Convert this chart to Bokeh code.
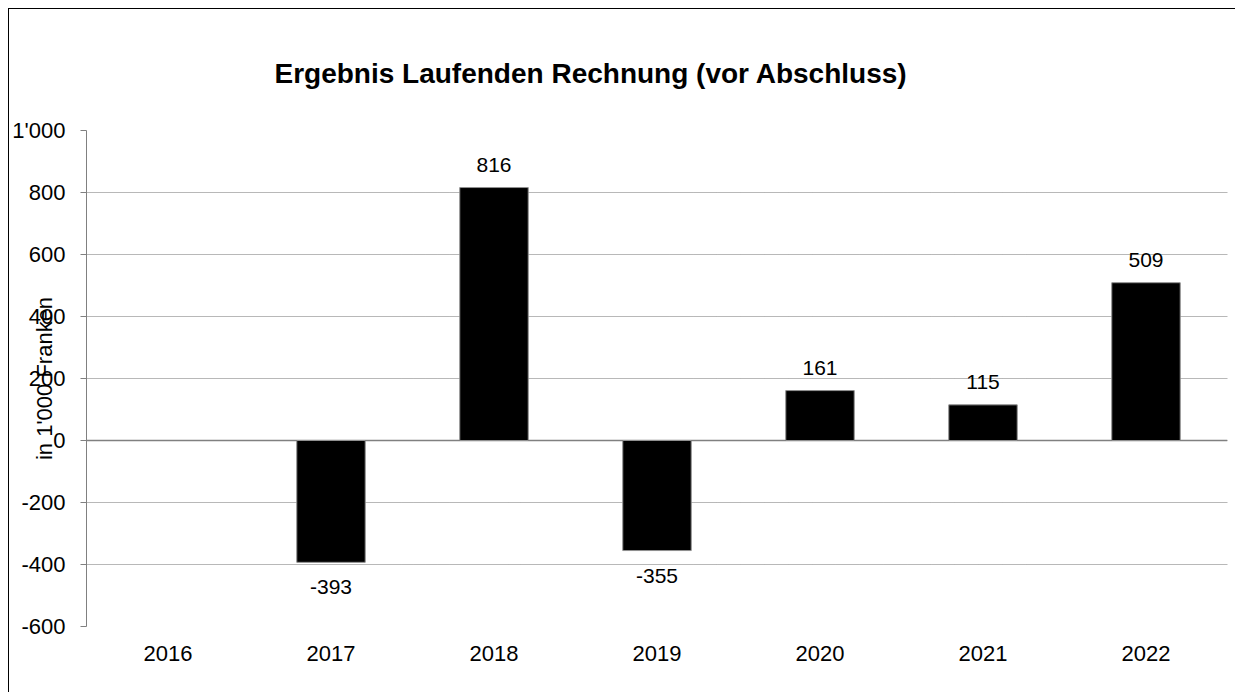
from bokeh.plotting import figure
from bokeh.models import ColumnDataSource, Range1d, FixedTicker, Span, Title
from bokeh.core.properties import value
from bokeh.embed import file_html
from bokeh.resources import INLINE

# ---- data ----
years = ["2016", "2017", "2018", "2019", "2020", "2021", "2022"]
bar_years = ["2017", "2018", "2019", "2020", "2021", "2022"]
bar_values = [-393, 816, -355, 161, 115, 509]
ytick_values = [-600, -400, -200, 0, 200, 400, 600, 800, 1000]
ytick_labels = ["-600", "-400", "-200", "0", "200", "400", "600", "800", "1'000"]
title_text = "Ergebnis Laufenden Rechnung (vor Abschluss)"
ylabel_text = "in 1'000 Franken"

FONT = "Liberation Sans"
OFF = 9                       # page offset of the canvas (margin + border)
W, H = 1236 - OFF, 693 - OFF
LEFT, RIGHT, TOP, BOTTOM = 86 - OFF, 1227 - OFF, 130 - OFF, 626 - OFF
YMIN, YMAX = -600, 1000

ncat = len(years)
p = figure(width=W, height=H, x_range=Range1d(-0.5, ncat - 0.5),
           y_range=Range1d(YMIN, YMAX), output_backend="svg",
           toolbar_location=None,
           min_border_left=LEFT, min_border_right=W - RIGHT, min_border_top=TOP,
           min_border_bottom=H - BOTTOM)
p.outline_line_color = None
p.background_fill_color = "white"
p.border_fill_color = "white"
p.styles = {"border-left": "1px solid black", "border-top": "1px solid black",
            "margin-left": "8px", "margin-top": "8px"}

# title
p.title = Title(text=title_text, align="left", offset=188, standoff=83,
                text_font=FONT, text_font_size="28px", text_font_style="bold",
                text_color="black")

src = ColumnDataSource(dict(
    x=[years.index(y) for y in bar_years], top=bar_values,
    lbl=[str(v) for v in bar_values],
    off=[-23 if v >= 0 else 25 for v in bar_values],
))

zero = Span(location=0, dimension="width", line_color="#808080", line_width=1.5,
            level="underlay")
p.add_layout(zero)

p.vbar(x="x", top="top", bottom=0, width=0.42, source=src, fill_color="black",
       line_color="#909090", line_width=1)
p.text(x="x", y="top", text="lbl", y_offset="off", source=src,
       text_align="center", text_baseline="middle", text_font=value(FONT),
       text_font_size="21px", text_color="black")

# y axis
yax = p.yaxis[0]
yax.ticker = FixedTicker(ticks=ytick_values)
yax.major_label_overrides = {v: l for v, l in zip(ytick_values, ytick_labels)}
yax.axis_line_color = "#808080"
yax.major_tick_line_color = "#808080"
yax.major_tick_out = 6
yax.major_tick_in = 0
yax.minor_tick_line_color = None
yax.major_label_text_font = FONT
yax.major_label_text_font_size = "22px"
yax.major_label_text_color = "black"
yax.major_label_standoff = 15
yax.axis_label = ylabel_text
yax.axis_label_text_font = FONT
yax.axis_label_text_font_size = "22px"
yax.axis_label_text_font_style = "normal"
yax.axis_label_text_color = "black"
yax.axis_label_standoff = -48

# x axis (category labels)
xax = p.xaxis[0]
xax.ticker = FixedTicker(ticks=list(range(ncat)))
xax.major_label_overrides = {i: y for i, y in enumerate(years)}
xax.axis_line_color = None
xax.major_tick_line_color = None
xax.minor_tick_line_color = None
xax.major_label_text_font = FONT
xax.major_label_text_font_size = "22px"
xax.major_label_text_color = "black"
xax.major_label_standoff = 13

p.xgrid.grid_line_color = None
p.ygrid.grid_line_color = "#707070"
p.ygrid.grid_line_dash = "1 1"
p.ygrid.grid_line_width = 1

open("out.html", "w").write(file_html(p, INLINE))
